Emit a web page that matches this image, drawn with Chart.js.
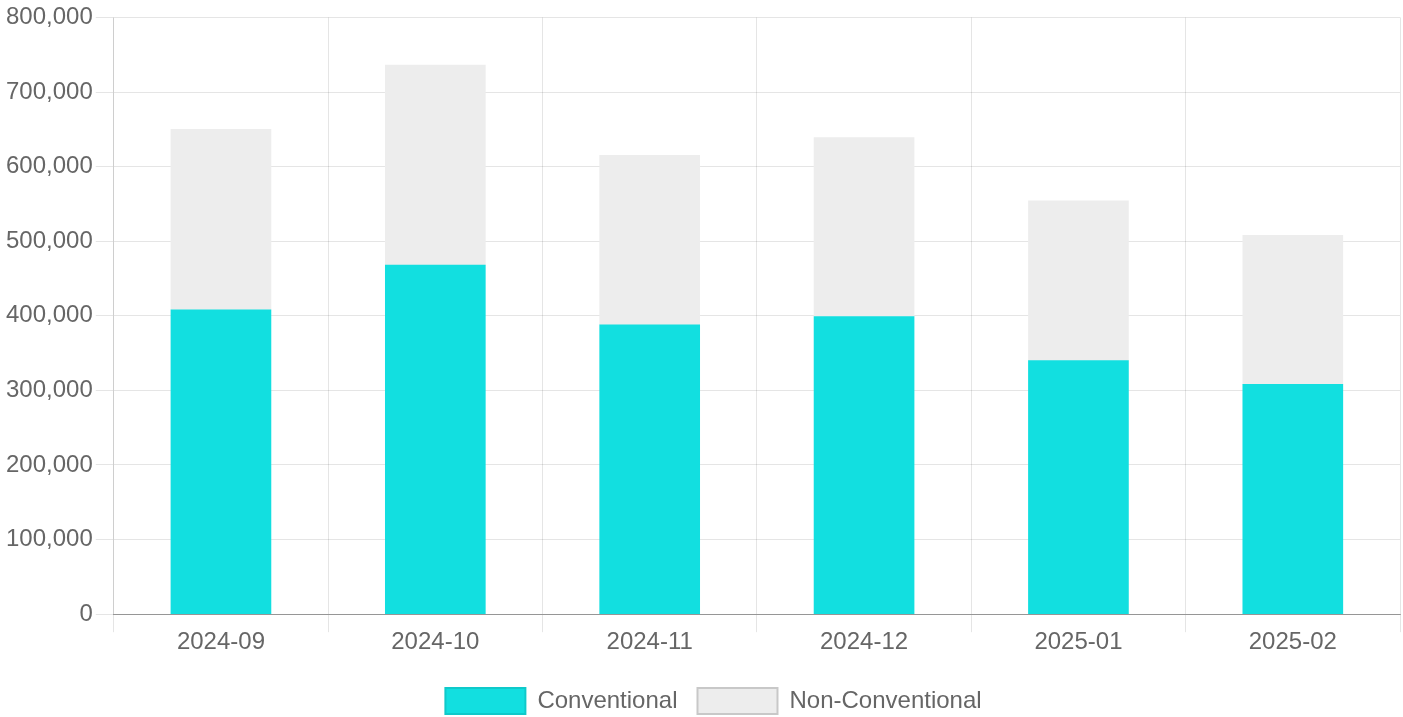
<!DOCTYPE html>
<html>
<head>
<meta charset="utf-8">
<script src="https://cdn.jsdelivr.net/npm/chart.js@4"></script>
<style>
  html, body { margin: 0; padding: 0; background: #fff; }
  #wrap { width: 1403px; height: 717px; }
</style>
</head>
<body>
<div id="wrap"><canvas id="bar"></canvas></div>
<script>
const months = ['2024-09', '2024-10', '2024-11', '2024-12', '2025-01', '2025-02'];
const conventional = [408000, 468000, 388000, 399000, 340000, 308000];
const nonConventional = [242000, 268000, 227000, 240000, 214000, 200000];

Chart.defaults.font.family = '"Liberation Sans", Arial, sans-serif';
Chart.defaults.font.size = 24;
Chart.defaults.color = '#666';

const ctx = document.getElementById('bar');

// nudge the legend a little to the right, like the original
const legendShift = {
  id: 'legendShift',
  afterLayout: chart => {
    chart.legend.left += 12;
    chart.legend.right += 12;
  }
};

new Chart(ctx, {
  type: 'bar',
  data: {
    labels: months,
    datasets: [{
      label: 'Conventional',
      data: conventional,
      backgroundColor: '#12dfe0',
      borderColor: '#0fc9ca',
      borderWidth: 0,
      barThickness: 100
    }, {
      label: 'Non-Conventional',
      data: nonConventional,
      backgroundColor: '#ededed',
      borderColor: '#c8c8c8',
      borderWidth: 0,
      barThickness: 100
    }]
  },
  plugins: [legendShift],
  options: {
    responsive: true,
    maintainAspectRatio: false,
    animation: false,
    layout: { padding: { left: 3, top: 4, right: 3, bottom: -7 } },
    plugins: {
      tooltip: { enabled: false },
      legend: {
        position: 'bottom',
        labels: {
          boxWidth: 80,
          boxHeight: 26,
          padding: 20,
          generateLabels: chart => {
            const items = Chart.defaults.plugins.legend.labels.generateLabels(chart);
            items.forEach(it => { it.lineWidth = 2; });
            return items;
          }
        }
      }
    },
    scales: {
      x: {
        stacked: true,
        grid: { color: 'rgba(0,0,0,0.1)', tickLength: 18, offset: true },
        border: { color: 'rgba(0,0,0,0.35)' },
        ticks: { padding: -4 },
        // extra room between the axis labels and the legend
        afterFit: scale => { scale.height += 15; }
      },
      y: {
        stacked: true,
        min: 0,
        max: 800000,
        grid: { color: 'rgba(0,0,0,0.1)', tickLength: 18 },
        border: { color: 'rgba(0,0,0,0.1)' },
        ticks: {
          stepSize: 100000,
          padding: 3,
          callback: v => v.toLocaleString('en-US')
        }
      }
    }
  }
});
</script>
</body>
</html>
